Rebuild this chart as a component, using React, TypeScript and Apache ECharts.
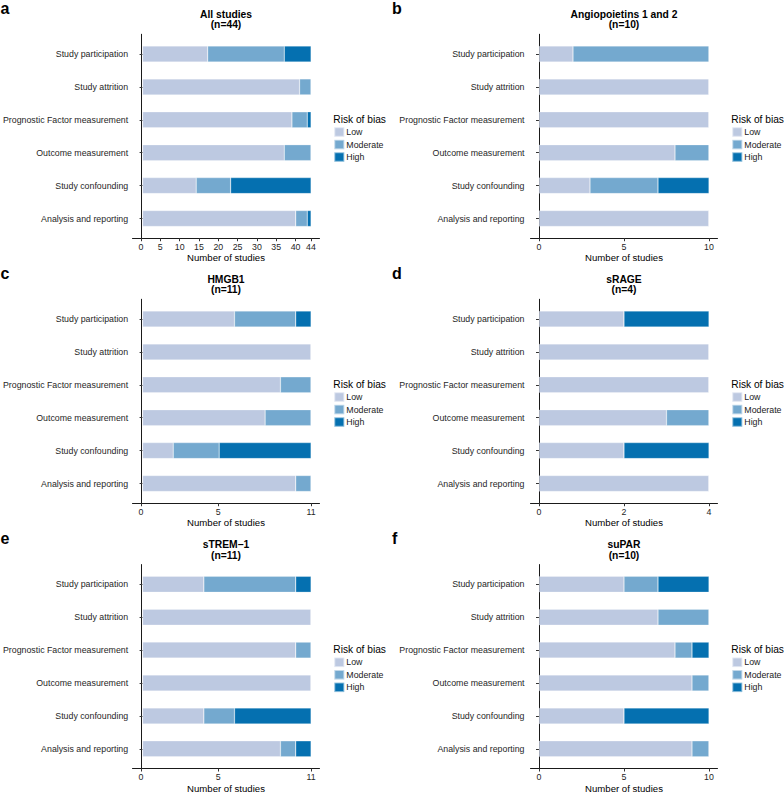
import React, { useEffect, useRef } from "react";
import * as echarts from "echarts";

const categories = [
  "Study participation",
  "Study attrition",
  "Prognostic Factor measurement",
  "Outcome measurement",
  "Study confounding",
  "Analysis and reporting",
];
const riskLevels = ["Low", "Moderate", "High"];

// a: All studies (n=44)
const allLow = [17, 41, 39, 37, 14, 40];
const allMod = [20, 3, 4, 7, 9, 3];
const allHigh = [7, 0, 1, 0, 21, 1];
const allTicks = [0, 5, 10, 15, 20, 25, 30, 35, 40, 44];
// b: Angiopoietins 1 and 2 (n=10)
const angLow = [2, 10, 10, 8, 3, 10];
const angMod = [8, 0, 0, 2, 4, 0];
const angHigh = [0, 0, 0, 0, 3, 0];
const angTicks = [0, 5, 10];
// c: HMGB1 (n=11)
const hmgLow = [6, 11, 9, 8, 2, 10];
const hmgMod = [4, 0, 2, 3, 3, 1];
const hmgHigh = [1, 0, 0, 0, 6, 0];
const hmgTicks = [0, 5, 11];
// d: sRAGE (n=4)
const sragLow = [2, 4, 4, 3, 2, 4];
const sragMod = [0, 0, 0, 1, 0, 0];
const sragHigh = [2, 0, 0, 0, 2, 0];
const sragTicks = [0, 2, 4];
// e: sTREM-1 (n=11)
const tremLow = [4, 11, 10, 11, 4, 9];
const tremMod = [6, 0, 1, 0, 2, 1];
const tremHigh = [1, 0, 0, 0, 5, 1];
const tremTicks = [0, 5, 11];
// f: suPAR (n=10)
const suparLow = [5, 7, 8, 9, 5, 9];
const suparMod = [2, 3, 1, 1, 0, 1];
const suparHigh = [3, 0, 1, 0, 5, 0];
const suparTicks = [0, 5, 10];

const panels = [
  { letter: "a", title: "All studies", n: "(n=44)", max: 44, ticks: allTicks, low: allLow, mod: allMod, high: allHigh },
  { letter: "b", title: "Angiopoietins 1 and 2", n: "(n=10)", max: 10, ticks: angTicks, low: angLow, mod: angMod, high: angHigh },
  { letter: "c", title: "HMGB1", n: "(n=11)", max: 11, ticks: hmgTicks, low: hmgLow, mod: hmgMod, high: hmgHigh },
  { letter: "d", title: "sRAGE", n: "(n=4)", max: 4, ticks: sragTicks, low: sragLow, mod: sragMod, high: sragHigh },
  { letter: "e", title: "sTREM\u22121", n: "(n=11)", max: 11, ticks: tremTicks, low: tremLow, mod: tremMod, high: tremHigh },
  { letter: "f", title: "suPAR", n: "(n=10)", max: 10, ticks: suparTicks, low: suparLow, mod: suparMod, high: suparHigh },
];

const COLORS = ["#bdc9e1", "#74a9cf", "#0570b0"];
const FONT = "Liberation Sans";
const AXIS_TEXT = "#262626";

export default function App() {
  const ref = useRef<HTMLDivElement>(null);

  useEffect(() => {
    if (!ref.current) return;
    const chart = echarts.init(ref.current, undefined, { renderer: "svg" });

    const colZero = [141, 539];
    const plotSpan = 170;
    const exp = 8.5;
    const rowCenter = [54, 319, 584.3];
    const band = 32.9;
    const legendX = [333.3, 731.3];

    const grid: any[] = [];
    const xAxis: any[] = [];
    const yAxis: any[] = [];
    const series: any[] = [];
    const legend: any[] = [];
    const graphic: any[] = [];

    panels.forEach((p, i) => {
      const col = i % 2;
      const row = Math.floor(i / 2);
      const c = rowCenter[row];
      const left = colZero[col] - exp;
      const width = plotSpan + 2 * exp;
      const min = -0.05 * p.max;
      const max = 1.05 * p.max;
      const centerX = left + width / 2;

      // bar grid
      grid.push({ left, width, top: c - band / 2, height: 6 * band });
      // frame grid
      grid.push({ left, width, top: c - 0.6 * band, height: 6.2 * band });

      xAxis.push({ type: "value", gridIndex: 2 * i, min, max, show: false });
      xAxis.push({
        type: "value",
        gridIndex: 2 * i + 1,
        min,
        max,
        axisLine: { show: true, lineStyle: { color: "#1a1a1a", width: 1 } },
        axisTick: { show: true, length: 3, customValues: p.ticks, lineStyle: { color: "#333", width: 1 } },
        axisLabel: { customValues: p.ticks, fontSize: 8.8, color: AXIS_TEXT, fontFamily: FONT, margin: 4 },
        splitLine: { show: false },
        name: "Number of studies",
        nameLocation: "middle",
        nameGap: 14.5,
        nameTextStyle: { fontSize: 9.6, color: "#000", fontFamily: FONT },
      });

      yAxis.push({
        type: "category",
        gridIndex: 2 * i,
        data: categories,
        inverse: true,
        axisLine: { show: false },
        axisTick: { show: true, alignWithLabel: true, length: 3, lineStyle: { color: "#333", width: 1 } },
        axisLabel: { fontSize: 8.8, color: AXIS_TEXT, fontFamily: FONT, margin: 6 },
      });
      yAxis.push({
        type: "value",
        gridIndex: 2 * i + 1,
        min: 0,
        max: 1,
        axisLine: { show: true, lineStyle: { color: "#1a1a1a", width: 1 } },
        axisTick: { show: false },
        axisLabel: { show: false },
        splitLine: { show: false },
      });

      const vals = [p.low, p.mod, p.high];
      riskLevels.forEach((lvl, k) => {
        series.push({
          type: "bar",
          name: lvl,
          xAxisIndex: 2 * i,
          yAxisIndex: 2 * i,
          stack: "s" + i,
          barWidth: 16,
          data: vals[k],
          itemStyle: { color: COLORS[k], borderColor: "rgba(255,255,255,0.5)", borderWidth: 0.5 },
          silent: true,
        });
      });

      legend.push({
        orient: "vertical",
        left: legendX[col],
        top: c + 72.3,
        padding: 0,
        itemWidth: 10,
        itemHeight: 9.5,
        itemGap: 1,
        icon: "rect",
        selectedMode: false,
        data: riskLevels,
        textStyle: { fontSize: 8.8, color: "#1a1a1a", fontFamily: FONT, padding: [0, 0, 0, -3] },
      });

      graphic.push({
        type: "text",
        x: centerX,
        y: c - 40,
        style: { text: p.title, fontSize: 10.3, fontWeight: "bold", fontFamily: FONT, fill: "#000", align: "center", verticalAlign: "middle" },
      });
      graphic.push({
        type: "text",
        x: centerX,
        y: c - 29.3,
        style: { text: p.n, fontSize: 10.3, fontWeight: "bold", fontFamily: FONT, fill: "#000", align: "center", verticalAlign: "middle" },
      });
      graphic.push({
        type: "text",
        x: col === 0 ? 0.5 : 392,
        y: c - 46,
        style: { text: p.letter, fontSize: 16, fontWeight: "bold", fontFamily: FONT, fill: "#000", align: "left", verticalAlign: "middle" },
      });
      graphic.push({
        type: "text",
        x: legendX[col],
        y: c + 65.2,
        style: { text: "Risk of bias", fontSize: 10.2, fontFamily: FONT, fill: "#000", align: "left", verticalAlign: "middle" },
      });
    });

    chart.setOption({
      animation: false,
      backgroundColor: "#ffffff",
      textStyle: { fontFamily: FONT },
      grid,
      xAxis,
      yAxis,
      series,
      legend,
      graphic,
    });

    return () => chart.dispose();
  }, []);

  return (
    <div
      ref={ref}
      style={{ position: "fixed", left: 0, top: 0, width: 784, height: 794, background: "#fff" }}
    />
  );
}
